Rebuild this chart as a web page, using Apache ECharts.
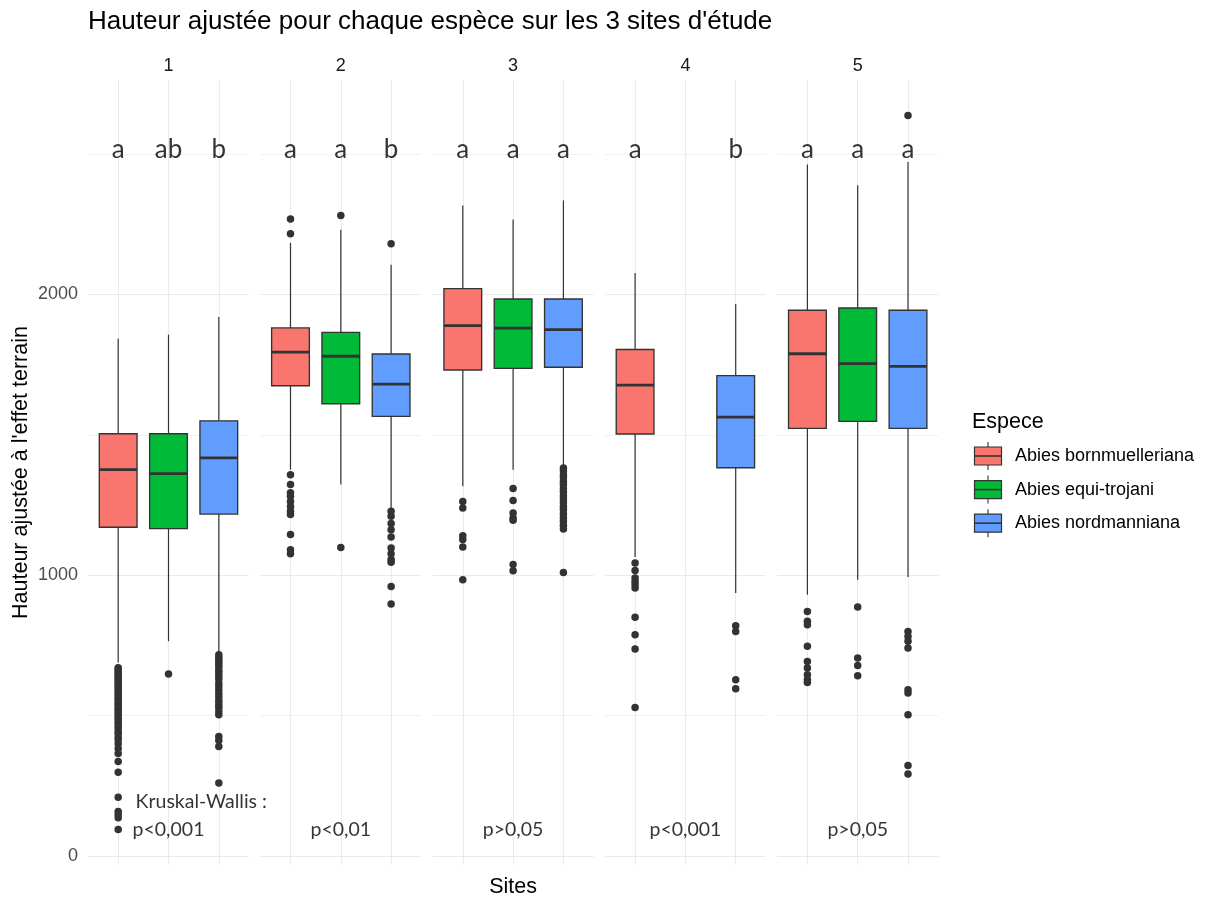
<!DOCTYPE html>
<html>
<head>
<meta charset="utf-8">
<script src="https://cdn.jsdelivr.net/npm/echarts@6/dist/echarts.min.js"></script>
<style>
  html, body { margin: 0; padding: 0; background: #ffffff; }
  #chart { width: 1205px; height: 900px; }
</style>
</head>
<body>
<div id="chart"></div>
<script>
// ---- Data ---------------------------------------------------------------
const sites = ['1', '2', '3', '4', '5'];
const especes = ['Abies bornmuelleriana', 'Abies equi-trojani', 'Abies nordmanniana'];

// [moustache basse, Q1, médiane, Q3, moustache haute] par site (null = espèce absente)
const boitesBornmuelleriana = [
  [689, 1171, 1376, 1504, 1842],
  [1376, 1675, 1795, 1881, 2184],
  [1317, 1731, 1889, 2021, 2317],
  [1065, 1503, 1677, 1804, 2077],
  [931, 1523, 1789, 1944, 2463]
];
const boitesEquiTrojani = [
  [765, 1166, 1362, 1504, 1857],
  [1323, 1611, 1780, 1865, 2231],
  [1376, 1737, 1880, 1984, 2267],
  null,
  [984, 1548, 1754, 1952, 2389]
];
const boitesNordmanniana = [
  [723, 1218, 1418, 1550, 1920],
  [1234, 1566, 1681, 1788, 2106],
  [1390, 1741, 1875, 1984, 2335],
  [937, 1383, 1563, 1711, 1966],
  [994, 1523, 1744, 1944, 2472]
];

// valeurs extrêmes par site
const extremesBornmuelleriana = [
  [671, 665, 659, 652, 646, 639, 633, 627, 619, 612, 606, 598, 591, 585, 576, 570, 562, 557, 548, 541,
   535, 526, 520, 511, 504, 494, 488, 478, 471, 461, 454, 443, 436, 423, 414, 400, 383, 365, 337, 298,
   209, 159, 148, 136, 94],
  [2269, 2216, 1358, 1323, 1294, 1281, 1263, 1245, 1228, 1216, 1145, 1091, 1077],
  [1263, 1240, 1141, 1127, 1101, 984],
  [1044, 1017, 990, 978, 967, 955, 850, 788, 737, 529],
  [871, 836, 824, 747, 693, 670, 646, 628, 618]
];
const extremesEquiTrojani = [
  [648],
  [2281, 1099],
  [1309, 1266, 1222, 1204, 1196, 1038, 1016],
  [],
  [887, 705, 679, 642]
];
const extremesNordmanniana = [
  [717, 708, 699, 691, 681, 673, 661, 652, 641, 631, 616, 605, 592, 580, 569, 556, 546, 535, 527, 514,
   503, 426, 411, 390, 260],
  [2181, 1228, 1210, 1184, 1162, 1136, 1097, 1077, 1056, 1046, 960, 898],
  [1382, 1371, 1357, 1346, 1333, 1322, 1308, 1297, 1283, 1272, 1258, 1244, 1233, 1219, 1205, 1192,
   1178, 1165, 1010],
  [820, 800, 628, 596],
  [2638, 800, 782, 765, 741, 592, 581, 503, 322, 292]
];

// groupes statistiques (lettres) et résultats du test par site
const lettres = [
  ['a', 'ab', 'b'],
  ['a', 'a', 'b'],
  ['a', 'a', 'a'],
  ['a', null, 'b'],
  ['a', 'a', 'a']
];
const pValeurs = ['p<0,001', 'p<0,01', 'p>0,05', 'p<0,001', 'p>0,05'];
const testNom = 'Kruskal-Wallis :';

const graduationsMajeures = [0, 1000, 2000];
const graduationsMineures = [500, 1500, 2500];

// ---- Layout & style -------------------------------------------------------
const boites = [boitesBornmuelleriana, boitesEquiTrojani, boitesNordmanniana];
const extremes = [extremesBornmuelleriana, extremesEquiTrojani, extremesNordmanniana];
const PALETTE = ['#F8766D', '#00BA38', '#619CFF'];
const CONTOUR = '#333333';
const GRILLE = '#ebebeb';

const PANEL_LEFT = 88, PANEL_STEP = 172.3, PANEL_W = 161, PANEL_TOP = 80, PANEL_H = 785;
const Y_MIN = -32, Y_MAX = 2764;
const X_MIN = 0.4, X_MAX = 3.6;
const BOX_W = 0.75;
const Y_LETTRES = 2516, Y_PVAL = 94, Y_TEST = 195, X_TEST = 2.65;
const TEXT_FONT = 'Lato, "Open Sans", sans-serif';
const UI_FONT = '"Liberation Sans", Arial, sans-serif';

function renderBoite(params, api) {
  const x = api.value(0);
  const lo = api.coord([x, api.value(1)]);
  const q1 = api.coord([x, api.value(2)]);
  const med = api.coord([x, api.value(3)]);
  const q3 = api.coord([x, api.value(4)]);
  const hi = api.coord([x, api.value(5)]);
  const half = api.size([BOX_W, 0])[0] / 2;
  const fill = PALETTE[api.value(6)];
  const trait = { stroke: CONTOUR, lineWidth: 1.2, fill: null };
  return {
    type: 'group',
    children: [
      { type: 'line', shape: { x1: hi[0], y1: hi[1], x2: q3[0], y2: q3[1] }, style: trait },
      { type: 'line', shape: { x1: q1[0], y1: q1[1], x2: lo[0], y2: lo[1] }, style: trait },
      { type: 'rect', shape: { x: q3[0] - half, y: q3[1], width: 2 * half, height: q1[1] - q3[1] },
        style: { fill: fill, stroke: CONTOUR, lineWidth: 1.35 } },
      { type: 'line', shape: { x1: med[0] - half, y1: med[1], x2: med[0] + half, y2: med[1] },
        style: { stroke: CONTOUR, lineWidth: 2.8, fill: null } }
    ]
  };
}

const grids = [], xAxes = [], yAxes = [], series = [], graphics = [];

sites.forEach((site, i) => {
  const left = PANEL_LEFT + i * PANEL_STEP;
  grids.push({ left: left, top: PANEL_TOP, width: PANEL_W, height: PANEL_H, containLabel: false });
  xAxes.push({
    gridIndex: i, type: 'value', min: X_MIN, max: X_MAX,
    axisLine: { show: false }, axisTick: { show: false }, axisLabel: { show: false }, splitLine: { show: false }
  });
  yAxes.push({
    gridIndex: i, type: 'value', min: Y_MIN, max: Y_MAX,
    axisLine: { show: false }, axisTick: { show: false }, splitLine: { show: false },
    axisLabel: {
      show: i === 0, customValues: graduationsMajeures, margin: 10,
      formatter: v => String(v),
      color: '#4d4d4d', fontSize: 18, fontFamily: UI_FONT
    }
  });

  // grid lines
  const lignes = graduationsMajeures.map(v => ({ yAxis: v, lineStyle: { width: 1.1 } }))
    .concat(graduationsMineures.map(v => ({ yAxis: v, lineStyle: { width: 0.7 } })))
    .concat([1, 2, 3].map(v => ({ xAxis: v, lineStyle: { width: 1.1 } })));
  series.push({
    type: 'line', xAxisIndex: i, yAxisIndex: i, data: [], z: 0, silent: true,
    markLine: {
      silent: true, symbol: ['none', 'none'], animation: false, z: 0,
      label: { show: false },
      lineStyle: { color: GRILLE, type: 'solid' },
      data: lignes
    }
  });

  // boxes
  const dataBoites = [];
  boites.forEach((b, s) => {
    if (b[i]) dataBoites.push([s + 1].concat(b[i]).concat([s]));
  });
  series.push({
    type: 'custom', xAxisIndex: i, yAxisIndex: i, z: 10, silent: true,
    renderItem: renderBoite,
    encode: { x: 0, y: [1, 2, 3, 4, 5] },
    data: dataBoites
  });

  // outliers
  const dataExtremes = [];
  extremes.forEach((e, s) => {
    e[i].forEach(v => dataExtremes.push([s + 1, v]));
  });
  series.push({
    type: 'scatter', xAxisIndex: i, yAxisIndex: i, z: 11, silent: true,
    symbol: 'circle', symbolSize: 7.5,
    itemStyle: { color: CONTOUR, opacity: 1 },
    data: dataExtremes
  });

  // annotations
  const textes = [];
  lettres[i].forEach((l, s) => {
    if (l) textes.push({ value: [s + 1, Y_LETTRES], texte: l, label: { fontSize: 26 } });
  });
  textes.push({ value: [2, Y_PVAL], texte: pValeurs[i], label: { fontSize: 19.5 } });
  if (i === 0) textes.push({ value: [X_TEST, Y_TEST], texte: testNom, label: { fontSize: 19.5 } });
  series.push({
    type: 'scatter', xAxisIndex: i, yAxisIndex: i, z: 12, silent: true,
    symbolSize: 1, itemStyle: { color: 'transparent' },
    label: {
      show: true, position: 'inside', color: '#000000', fontFamily: TEXT_FONT,
      formatter: p => p.data.texte
    },
    data: textes
  });

  // strip label
  graphics.push({
    type: 'text', x: left + PANEL_W / 2, y: 66,
    style: { text: site, fill: '#1a1a1a', font: '18px ' + UI_FONT, align: 'center', verticalAlign: 'middle' }
  });
});

// axis titles
graphics.push({
  type: 'text', x: PANEL_LEFT + (4 * PANEL_STEP + PANEL_W) / 2, y: 887,
  style: { text: 'Sites', fill: '#000000', font: '21.5px ' + UI_FONT, align: 'center', verticalAlign: 'middle' }
});
graphics.push({
  type: 'text', x: 21, y: PANEL_TOP + PANEL_H / 2, rotation: Math.PI / 2,
  style: { text: "Hauteur ajustée à l'effet terrain", fill: '#000000', font: '21.5px ' + UI_FONT,
           align: 'center', verticalAlign: 'middle' }
});

// legend
graphics.push({
  type: 'text', x: 972, y: 422,
  style: { text: 'Espece', fill: '#000000', font: '21.5px ' + UI_FONT, align: 'left', verticalAlign: 'middle' }
});
especes.forEach((nom, s) => {
  const cy = 456 + s * 33.6;
  const cx = 988;
  graphics.push({
    type: 'group',
    children: [
      { type: 'line', shape: { x1: cx, y1: cy - 14, x2: cx, y2: cy - 9 }, style: { stroke: CONTOUR, lineWidth: 1.1 } },
      { type: 'line', shape: { x1: cx, y1: cy + 9, x2: cx, y2: cy + 14 }, style: { stroke: CONTOUR, lineWidth: 1.1 } },
      { type: 'rect', shape: { x: cx - 13.5, y: cy - 9, width: 27, height: 18 },
        style: { fill: PALETTE[s], stroke: CONTOUR, lineWidth: 1.2 } },
      { type: 'line', shape: { x1: cx - 13.5, y1: cy, x2: cx + 13.5, y2: cy }, style: { stroke: CONTOUR, lineWidth: 1.6 } },
      { type: 'text', x: 1015, y: cy,
        style: { text: nom, fill: '#000000', font: '18px ' + UI_FONT, align: 'left', verticalAlign: 'middle' } }
    ]
  });
});

const chart = echarts.init(document.getElementById('chart'), null, { renderer: 'canvas' });
chart.setOption({
  animation: false,
  backgroundColor: '#ffffff',
  title: {
    text: 'Hauteur ajustée pour chaque espèce sur les 3 sites d\'étude',
    left: 88, top: 9, padding: 0,
    textStyle: { fontFamily: UI_FONT, fontSize: 26, fontWeight: 'normal', color: '#000000' }
  },
  grid: grids,
  xAxis: xAxes,
  yAxis: yAxes,
  series: series,
  graphic: graphics
});
</script>
</body>
</html>
